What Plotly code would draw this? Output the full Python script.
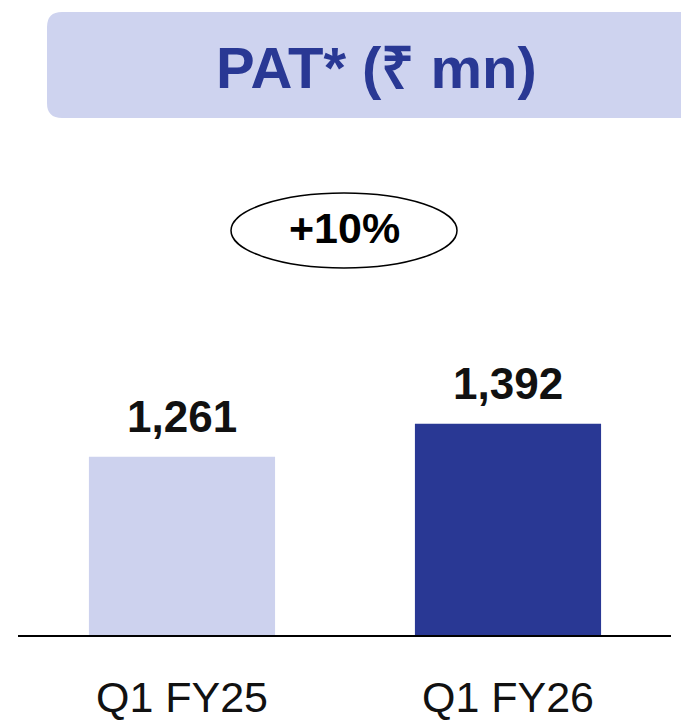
import plotly.graph_objects as go

categories = ["Q1 FY25", "Q1 FY26"]
values = [1261, 1392]
value_labels = ["1,261", "1,392"]
bar_colors = ["#CDD2EE", "#293894"]
growth_label = "+10%"
title_text = "PAT* (₹ mn)"

W, H = 681, 724
ML, MR, MT, MB = 18, 10, 150, 88
PW, PH = W - ML - MR, H - MT - MB
FONT = "Liberation Sans, Arial"


def px(x):
    return (x - ML) / PW


def py(y):
    return (H - MB - y) / PH


fig = go.Figure()
fig.add_trace(go.Bar(
    x=[0, 1], y=values, width=0.571,
    marker=dict(color=bar_colors, line=dict(width=0)),
    hoverinfo="skip",
))

for i, (v, t) in enumerate(zip(values, value_labels)):
    fig.add_annotation(x=i, y=v, text=f"<b>{t}</b>", showarrow=False,
                       xanchor="center", yanchor="bottom", yshift=14,
                       font=dict(size=44, color="#111111", family=FONT))

# title box with rounded left corners
x0, x1, y0, y1 = px(47), px(700), py(118), py(12)
rx, ry = 15 / PW, 15 / PH
path = (f"M {x0+rx},{y1} L {x1},{y1} L {x1},{y0} L {x0+rx},{y0} "
        f"Q {x0},{y0} {x0},{y0+ry} L {x0},{y1-ry} Q {x0},{y1} {x0+rx},{y1} Z")
fig.add_shape(type="path", path=path, xref="paper", yref="paper",
              fillcolor="#CED3EF", line=dict(width=0), layer="below")
fig.add_annotation(x=px(376), y=py(67), xref="paper", yref="paper",
                   xanchor="center", yanchor="middle",
                   text=f"<b>{title_text}</b>", showarrow=False,
                   font=dict(size=58, color="#293894", family=FONT))

# growth ellipse
fig.add_shape(type="circle", xref="paper", yref="paper",
              x0=px(231), x1=px(457), y0=py(268), y1=py(193),
              line=dict(color="#000000", width=1.5), fillcolor="rgba(0,0,0,0)")
fig.add_annotation(x=px(345), y=py(228), xref="paper", yref="paper",
                   xanchor="center", yanchor="middle",
                   text=f"<b>{growth_label}</b>", showarrow=False,
                   font=dict(size=43, color="#000000", family=FONT))

# baseline
fig.add_shape(type="line", xref="paper", yref="paper", x0=0, x1=1, y0=0, y1=0,
              line=dict(color="#000000", width=2))

fig.update_layout(
    width=W, height=H,
    margin=dict(l=ML, r=MR, t=MT, b=MB, autoexpand=False),
    plot_bgcolor="white", paper_bgcolor="white",
    showlegend=False,
    xaxis=dict(range=[-0.503, 1.5], tickvals=[0, 1], ticktext=categories,
               showgrid=False, zeroline=False, showline=False, ticks="",
               automargin=False,
               tickfont=dict(size=43, color="#111111", family=FONT),
               ticklabelstandoff=32),
    yaxis=dict(range=[550, 2479], visible=False, showgrid=False, automargin=False),
)

fig.write_html("out.html", config={"displayModeBar": False},
               post_script="document.body.style.margin='0';")
